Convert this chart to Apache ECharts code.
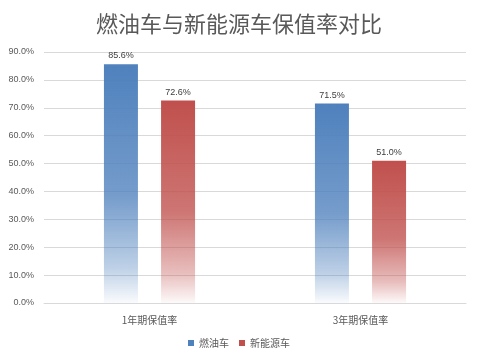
<!DOCTYPE html>
<html><head><meta charset="utf-8">
<script src="https://cdn.jsdelivr.net/npm/echarts@6/dist/echarts.min.js"></script>
<style>html,body{margin:0;padding:0;background:#fff}#c{width:478px;height:362px}</style>
</head><body><div id="c"></div>
<script>
const categories = ['1年期保值率', '3年期保值率'];
const fuelCar = [85.6, 71.5];
const newEnergyCar = [72.6, 51.0];
const seriesNames = ['燃油车', '新能源车'];
const yTicks = [0, 10, 20, 30, 40, 50, 60, 70, 80, 90];

const grad = (c) => new echarts.graphic.LinearGradient(0, 0, 0, 1, [
  {offset: 0, color: c},
  {offset: 0.55, color: c + 'c8'},
  {offset: 0.85, color: c + '60'},
  {offset: 1, color: c + '08'}
]);
const chart = echarts.init(document.getElementById('c'));
chart.setOption({
  animation: false,
  title: {text: '燃油车与新能源车保值率对比', left: 'center', top: 8,
    textStyle: {fontFamily: 'Noto Sans CJK SC', fontSize: 22, fontWeight: 'normal', color: '#595959'}},
  grid: {left: 44, right: 12, top: 52, bottom: 59},
  legend: {bottom: 9, left: 'center', itemWidth: 6, itemHeight: 6, itemGap: 10,
    textStyle: {fontSize: 10, color: '#595959', fontFamily: 'Noto Sans CJK SC'},
    data: [{name: seriesNames[0], icon: 'rect', itemStyle: {color: '#4F81BD'}},
           {name: seriesNames[1], icon: 'rect', itemStyle: {color: '#C0504D'}}]},
  xAxis: {type: 'category', data: categories,
    axisLine: {lineStyle: {color: '#d9d9d9'}}, axisTick: {show: false},
    axisLabel: {color: '#595959', fontSize: 10, margin: 12, fontFamily: 'Noto Sans CJK SC'}},
  yAxis: {type: 'value', min: yTicks[0], max: yTicks[yTicks.length - 1], interval: 10,
    axisLabel: {formatter: v => v.toFixed(1) + '%', color: '#595959', fontSize: 9, margin: 10},
    splitLine: {lineStyle: {color: '#d9d9d9'}}, axisLine: {show: false}, axisTick: {show: false}},
  series: [
    {name: seriesNames[0], type: 'bar', data: fuelCar, barWidth: 34, barGap: '68%',
      itemStyle: {color: grad('#4F81BD')},
      label: {show: true, position: 'top', formatter: p => p.value.toFixed(1) + '%', color: '#404040', fontSize: 9, distance: 4}},
    {name: seriesNames[1], type: 'bar', data: newEnergyCar, barWidth: 34,
      itemStyle: {color: grad('#C0504D')},
      label: {show: true, position: 'top', formatter: p => p.value.toFixed(1) + '%', color: '#404040', fontSize: 9, distance: 4}}
  ]
});
</script></body></html>
